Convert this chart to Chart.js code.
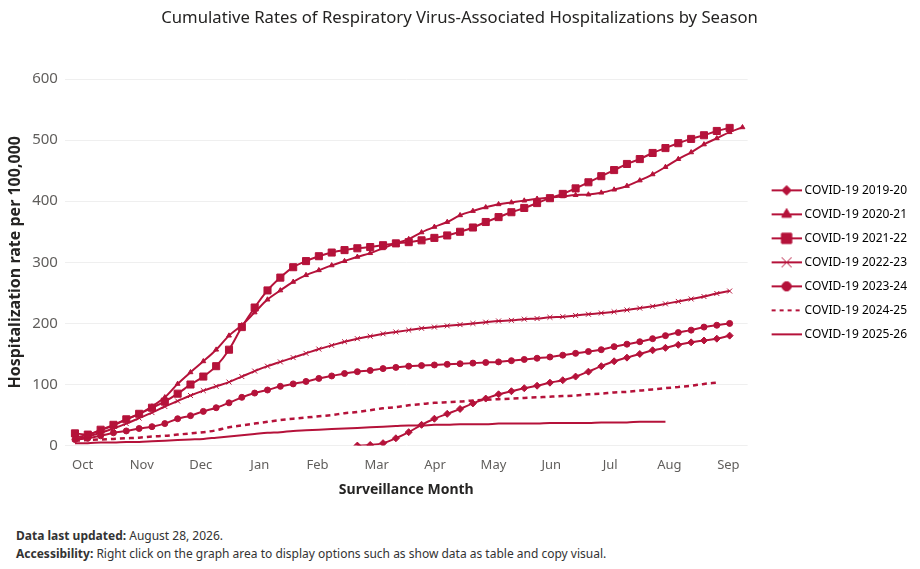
<!DOCTYPE html>
<html>
<head>
<meta charset="utf-8">
<script src="https://cdn.jsdelivr.net/npm/chart.js@4.4.1/dist/chart.umd.min.js"></script>
<style>
  body { margin: 0; background: #fff; font-family: "Noto Sans", sans-serif; }
  #wrap { position: relative; width: 920px; height: 515px; }
  .note { position: absolute; left: 16px; font-size: 12px; color: #333; }
</style>
</head>
<body>
<div id="wrap"><canvas id="chart"></canvas></div>
<div class="note" style="top:527px"><b>Data last updated:</b> August 28, 2026.</div>
<div class="note" style="top:545px"><b>Accessibility:</b> Right click on the graph area to display options such as show data as table and copy visual.</div>
<script>
const RED = "#b5123a";

// month labels and where they sit on the week axis (week 0 = first week of October)
const monthLabels = ["Oct", "Nov", "Dec", "Jan", "Feb", "Mar", "Apr", "May", "Jun", "Jul", "Aug", "Sep"];
const monthTicks = [0.6, 5.2, 9.8, 14.4, 18.9, 23.5, 28.05, 32.6, 37.1, 41.7, 46.3, 50.9];

const seasons = ["COVID-19 2019-20", "COVID-19 2020-21", "COVID-19 2021-22", "COVID-19 2022-23",
  "COVID-19 2023-24", "COVID-19 2024-25", "COVID-19 2025-26"];

// cumulative rate per 100,000, one value per surveillance week
const covid1920 = [null, null, null, null, null, null, null, null, null, null, null,
  null, null, null, null, null, null, null, null, null, null, null,
  0, 1, 4, 12, 22, 34, 44, 52, 60, 69, 77, 84, 89, 94, 98, 103, 107, 113, 121,
  130, 138, 144, 150, 156, 160, 165, 169, 172, 175, 180];
const covid2021 = [13, 18, 25, 33, 43, 52, 64, 79, 101, 120, 138, 157, 180, 197, 218, 239,
  254, 268, 279, 287, 295, 302, 309, 315, 323, 331, 338, 349, 358, 366, 377, 384, 390,
  395, 398, 401, 404, 406, 408, 410, 411, 414, 419, 425, 434, 444, 456, 469, 480, 493,
  503, 513, 521];
const covid2122 = [20, 18, 26, 34, 43, 52, 62, 72, 85, 100, 113, 130, 157, 194, 226, 254,
  275, 292, 302, 310, 316, 320, 323, 325, 328, 331, 333, 336, 340, 344, 350, 357, 366,
  374, 382, 389, 397, 405, 412, 421, 431, 441, 451, 461, 469, 479, 487, 495, 502, 508,
  515, 520];
const covid2223 = [11, 15, 21, 28, 36, 45, 54, 64, 73, 82, 90, 97, 104, 113, 122, 130,
  137, 144, 151, 158, 164, 170, 175, 179, 183, 186, 189, 192, 194, 196, 198, 200, 202,
  204, 205, 207, 208, 210, 211, 213, 215, 217, 219, 222, 225, 228, 232, 236, 240, 244,
  249, 253];
const covid2324 = [10, 12, 16, 21, 24, 28, 31, 36, 44, 49, 56, 62, 70, 79, 86, 91, 97,
  101, 105, 110, 114, 118, 121, 123, 126, 128, 130, 131, 132, 133, 134, 135, 136, 137,
  139, 141, 143, 145, 148, 151, 154, 157, 162, 166, 170, 175, 180, 185, 189, 194, 197,
  200];
const covid2425 = [8, 9, 10, 11, 12, 13, 15, 16, 18, 20, 22, 25, 30, 33, 36, 39, 42, 44,
  46, 48, 50, 53, 55, 58, 61, 63, 66, 68, 70, 71, 72, 74, 75, 76, 77, 78, 79, 80, 81,
  82, 84, 85, 87, 88, 90, 92, 94, 96, 98, 101, 103];
const covid2526 = [4, 4, 5, 5, 6, 6, 7, 8, 9, 10, 11, 13, 15, 17, 19, 21, 22, 24, 25, 26,
  27, 28, 29, 30, 31, 32, 33, 33, 34, 34, 35, 35, 35, 36, 36, 36, 36, 37, 37, 37, 37,
  38, 38, 38, 39, 39, 39];

const seriesValues = [covid1920, covid2021, covid2122, covid2223, covid2324, covid2425, covid2526];
const pointStyles = ["rectRot", "triangle", "rect", "crossRot", "circle", false, false];
const pointSizes = [3.5, 2.8, 5, 3.5, 3, 0, 0];
const legendSizes = [4.5, 5.5, 7, 7, 4.5, 0, 0];

function toPoints(values) {
  return values.map((v, i) => ({ x: i, y: v })).filter(p => p.y !== null);
}

// legend swatch: a short line with the marker in the middle
function legendIcon(idx) {
  const c = document.createElement("canvas");
  c.width = 45; c.height = 16;
  const g = c.getContext("2d");
  g.strokeStyle = RED; g.fillStyle = RED; g.lineWidth = 2;
  if (idx === 5) g.setLineDash([4, 4]);
  g.beginPath(); g.moveTo(15, 8); g.lineTo(45, 8); g.stroke();
  g.setLineDash([]);
  if (pointStyles[idx]) {
    g.lineWidth = 1;
    Chart.helpers.drawPoint(g, {
      pointStyle: pointStyles[idx], radius: legendSizes[idx], rotation: 0, borderWidth: 1
    }, 30, 8);
    if (pointStyles[idx] !== "crossRot") g.fill();
    g.stroke();
  }
  return c;
}

const datasets = seasons.map((name, i) => ({
  label: name,
  data: toPoints(seriesValues[i]),
  borderColor: RED,
  backgroundColor: RED,
  borderWidth: i === 5 ? 2.5 : 2,
  borderDash: i === 5 ? [5, 4] : [],
  pointStyle: pointStyles[i] || "circle",
  pointRadius: pointSizes[i],
  pointHoverRadius: pointSizes[i],
  pointBorderWidth: 1,
  cubicInterpolationMode: "monotone",
  fill: false
}));

new Chart(document.getElementById("chart"), {
  type: "line",
  data: { datasets },
  options: {
    responsive: true,
    maintainAspectRatio: false,
    animation: false,
    layout: { padding: { left: 2, right: 3, top: 0, bottom: 13 } },
    plugins: {
      title: {
        display: true,
        text: "Cumulative Rates of Respiratory Virus-Associated Hospitalizations by Season",
        color: "#252423",
        font: { family: "Noto Sans", size: 16.7, weight: "normal" },
        padding: { top: 8, bottom: 51 }
      },
      legend: {
        position: "right",
        fullSize: false,
        labels: {
          usePointStyle: true,
          pointStyleWidth: 39,
          padding: 12,
          color: "#404040",
          font: { family: "Noto Sans", size: 12 },
          generateLabels: (chart) => chart.data.datasets.map((ds, i) => ({
            text: ds.label,
            pointStyle: legendIcon(i),
            fillStyle: RED,
            strokeStyle: RED,
            lineWidth: 0,
            hidden: false,
            datasetIndex: i
          }))
        }
      },
      tooltip: { enabled: false }
    },
    scales: {
      x: {
        type: "linear",
        min: -0.78,
        max: 52.4,
        grid: { display: false },
        border: { display: false },
        afterBuildTicks: (axis) => { axis.ticks = monthTicks.map(v => ({ value: v })); },
        ticks: {
          autoSkip: false,
          maxRotation: 0,
          padding: 4,
          color: "#605e5c",
          font: { family: "Noto Sans", size: 13 },
          callback: (value) => monthLabels[monthTicks.indexOf(value)]
        },
        title: {
          display: true,
          text: "Surveillance Month",
          color: "#252423",
          font: { family: "Noto Sans", size: 14, weight: "bold" },
          padding: { top: 4, bottom: 4 }
        }
      },
      y: {
        min: 0,
        max: 600,
        ticks: {
          stepSize: 100,
          color: "#605e5c",
          padding: 7,
          font: { family: "Noto Sans", size: 15 }
        },
        grid: { color: "#efefef", drawTicks: false },
        border: { display: false },
        title: {
          display: true,
          text: "Hospitalization rate per 100,000",
          color: "#252423",
          font: { family: "Noto Sans", size: 16, weight: "bold" },
          padding: { top: 4, bottom: 0 }
        }
      }
    }
  }
});
</script>
</body>
</html>
